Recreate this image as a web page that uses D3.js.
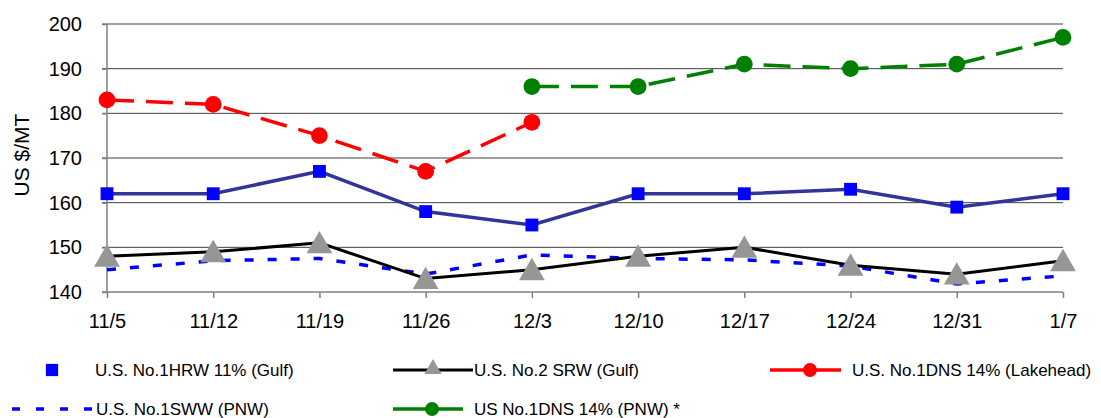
<html>
  <head>
    <meta charset="utf-8">
    <style>
      body { margin: 0; background: #fff; }
      text { font-family: Arial, "Liberation Sans", sans-serif; fill: #000; }
      .grid line { stroke: #404040; stroke-width: 1; }
      .axis path, .axis line { stroke: #808080; stroke-width: 1.5; }
      .axis text { font-size: 20px; }
      .legend text { font-size: 17px; }
    </style>
  </head>
<body>
  <svg width="1101" height="418"></svg>
  <script src="https://d3js.org/d3.v7.min.js"></script>
  <script>
    // weekly dates on the x axis
    var dates = ["11/5", "11/12", "11/19", "11/26", "12/3", "12/10", "12/17", "12/24", "12/31", "1/7"];
    var yTicks = [140, 150, 160, 170, 180, 190, 200];

    // prices, US $/MT (null = no quote)
    var hrwGulf = [162, 162, 167, 158, 155, 162, 162, 163, 159, 162];
    var srwGulf = [148, 149, 151, 143, 145, 148, 150, 146, 144, 147];
    var dnsLakehead = [183, 182, 175, 167, 178, null, null, null, null, null];
    var swwPnw = [145, 147, 147.5, 144, 148.3, 147.5, 147.2, 145.8, 141.8, 143.6];
    var dnsPnw = [null, null, null, null, 186, 186, 191, 190, 191, 197];

    var seriesNames = [
      "U.S. No.1HRW 11% (Gulf)",
      "U.S. No.2 SRW (Gulf)",
      "U.S. No.1DNS 14% (Lakehead)",
      "U.S. No.1SWW (PNW)",
      "US No.1DNS 14% (PNW) *"
    ];

    var svg = d3.select("svg");
    var plotLeft = 107, plotRight = 1063, plotTop = 24, plotBottom = 292;

    var x = d3.scalePoint().domain(dates).range([plotLeft, plotRight]);
    var y = d3.scaleLinear().domain([140, 200]).range([plotBottom, plotTop]);

    // horizontal gridlines
    svg.append("g")
      .attr("class", "grid")
      .selectAll("line")
      .data(yTicks.slice(1))
      .enter().append("line")
      .attr("x1", plotLeft - 5)
      .attr("x2", plotRight)
      .attr("y1", function(d) { return y(d); })
      .attr("y2", function(d) { return y(d); });

    var yAxis = svg.append("g")
      .attr("class", "axis")
      .attr("transform", "translate(" + plotLeft + ",0)")
      .call(d3.axisLeft(y).tickValues(yTicks).tickSize(5).tickSizeOuter(0).tickPadding(20));
    yAxis.select(".domain").attr("d", "M0," + plotTop + "V" + plotBottom);

    var xAxis = svg.append("g")
      .attr("class", "axis")
      .attr("transform", "translate(0," + plotBottom + ")")
      .call(d3.axisBottom(x).tickSize(6).tickSizeOuter(0).tickPadding(16));
    xAxis.select(".domain").attr("d", "M" + (plotLeft - 5) + ",0H" + plotRight);

    svg.append("text")
      .attr("transform", "translate(28.5,155) rotate(-90)")
      .attr("text-anchor", "middle")
      .attr("font-size", "21px")
      .text("US $/MT");

    var series = [
      {name: seriesNames[0], values: hrwGulf, color: "#333399", width: 3.5, dash: null, marker: "square", fill: "#0000ff"},
      {name: seriesNames[1], values: srwGulf, color: "#000000", width: 3, dash: null, marker: "triangle", fill: "#969696"},
      {name: seriesNames[2], values: dnsLakehead, color: "#ff0000", width: 3.5, dash: "27,12", marker: "circle", fill: "#ff0000"},
      {name: seriesNames[3], values: swwPnw, color: "#0000ff", width: 3.5, dash: "9,14", marker: null, fill: null},
      {name: seriesNames[4], values: dnsPnw, color: "#008000", width: 3.5, dash: "27,12", marker: "circle", fill: "#008000"}
    ];

    var line = d3.line()
      .defined(function(d) { return d.v !== null; })
      .x(function(d) { return x(d.date); })
      .y(function(d) { return y(d.v); });

    function points(s) {
      return s.values.map(function(v, i) { return {date: dates[i], v: v}; });
    }

    function symbolPath(type, size) {
      var t = type === "square" ? d3.symbolSquare : type === "triangle" ? d3.symbolTriangle : d3.symbolCircle;
      return d3.symbol().type(t).size(size)();
    }
    var markerSize = {square: 165, triangle: 290, circle: 220};

    // draw order: HRW, SWW dotted, SRW, red, green
    [series[0], series[3], series[1], series[2], series[4]].forEach(function(s) {
      var g = svg.append("g");
      g.append("path")
        .datum(points(s))
        .attr("fill", "none")
        .attr("stroke", s.color)
        .attr("stroke-width", s.width)
        .attr("stroke-dasharray", s.dash)
        .attr("d", line);
      if (s.marker) {
        g.selectAll(".pt")
          .data(points(s).filter(function(d) { return d.v !== null; }))
          .enter().append("path")
          .attr("transform", function(d) {
            var dy = s.marker === "triangle" ? 3 : 0;
            return "translate(" + x(d.date) + "," + (y(d.v) + dy) + ")";
          })
          .attr("d", symbolPath(s.marker, markerSize[s.marker]))
          .attr("fill", s.fill);
      }
    });

    // legend
    var legendPos = [
      {x: 52, y: 370, tx: 95, line: null},
      {x: 433, y: 370, tx: 474, line: [393, 473]},
      {x: 810, y: 370, tx: 852, line: [770, 841]},
      {x: 52, y: 409, tx: 96, line: [12, 92]},
      {x: 432, y: 409, tx: 474, line: [393, 463]}
    ];
    var legend = svg.append("g").attr("class", "legend");
    series.forEach(function(s, i) {
      var p = legendPos[i];
      if (p.line) {
        legend.append("line")
          .attr("x1", p.line[0]).attr("x2", p.line[1])
          .attr("y1", p.y).attr("y2", p.y)
          .attr("stroke", s.color)
          .attr("stroke-width", s.width)
          .attr("stroke-dasharray", i === 3 ? "8,16" : null);
      }
      if (s.marker) {
        var size = s.marker === "square" ? 150 : s.marker === "triangle" ? 130 : 150;
        legend.append("path")
          .attr("transform", "translate(" + p.x + "," + (p.y - (s.marker === "triangle" ? 1 : 0)) + ")")
          .attr("d", symbolPath(s.marker, size))
          .attr("fill", s.fill);
      }
      legend.append("text")
        .attr("x", p.tx)
        .attr("y", p.y + 6)
        .text(s.name);
    });
  </script>
</body>
</html>
